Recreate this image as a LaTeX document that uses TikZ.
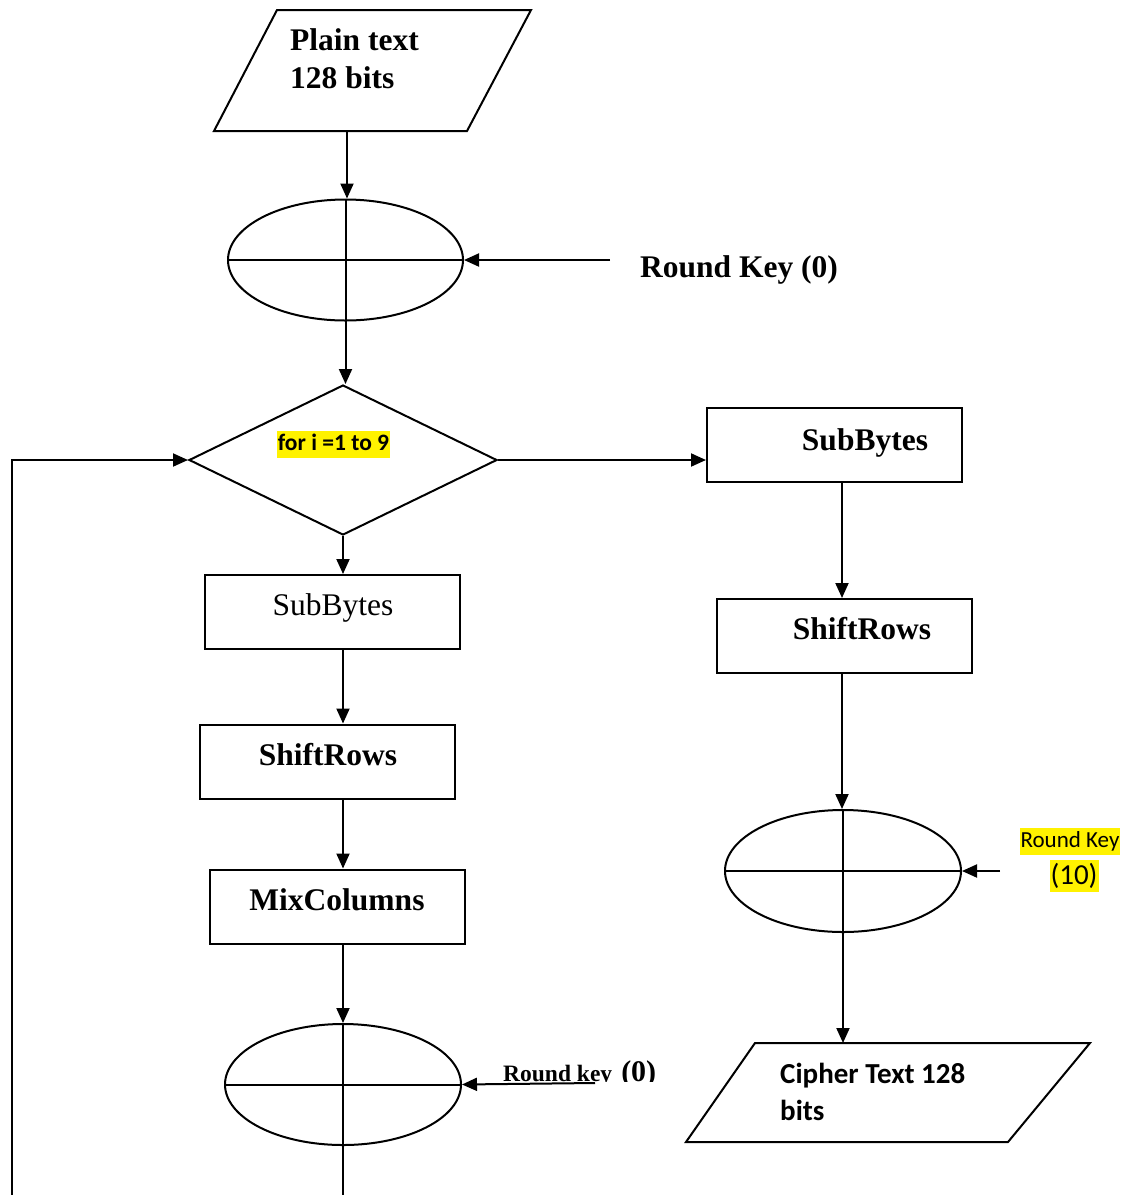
\documentclass[tikz,border=0pt]{standalone}
\usepackage{fontspec}
\setmainfont{Liberation Serif}
\newfontfamily\calibri{Carlito}
\usetikzlibrary{arrows.meta,shapes.geometric}

\tikzset{
  flow/.style={line width=2pt,-{Triangle[length=15pt,width=13pt]}},
  plain/.style={line width=2pt},
  xorop/.style={ellipse,draw,line width=2pt,inner sep=0pt},
  cross/.style={line width=2pt},
  procbox/.style={draw,line width=2pt,minimum width=255pt,minimum height=74pt,inner sep=0pt},
  bigtxt/.style={font=\fontsize{31.5}{38}\selectfont\bfseries,inner sep=0pt},
  regtxt/.style={font=\fontsize{31.5}{38}\selectfont,inner sep=0pt},
  hilite/.style={fill=yellow,inner xsep=1pt,inner ysep=0pt},
}

\begin{document}
\begin{tikzpicture}[x=1pt,y=-1pt]
\useasboundingbox (0,0) rectangle (1132,1195);

% ---- input block ----
\draw[line width=2pt] (277,10) -- (531,10) -- (467,131) -- (214,131) -- cycle;
\coordinate (ptB) at (347,131);
\node[bigtxt,anchor=north west,align=left] (pt) at (290,28) {Plain text\\128 bits};

% ---- initial key addition ----
\node[xorop,minimum width=235pt,minimum height=121pt] (e1) at (345.5,260) {};
\draw[cross] (e1.north) -- (e1.south) (e1.west) -- (e1.east);
\coordinate (k0) at (610,260);
\node[bigtxt,anchor=base west] (k0t) at (640,277) {Round Key (0)};
\draw[flow] (ptB) -- (ptB |- e1.north);
\draw[flow] (k0) -- (e1.east);

% ---- loop decision ----
\node[diamond,draw,line width=2pt,inner sep=0pt,minimum width=308pt,minimum height=150pt] (loop) at (343,460) {};
\node[hilite,font=\calibri\bfseries\fontsize{23.5}{28}\selectfont,text height=20pt,text depth=7pt] (looptxt) at (333.5,444) {for i =1 to 9};
\draw[flow] (e1.south) -- (e1.south |- loop.north);

% ---- round body (rounds 1..9) ----
\coordinate (colL) at (343,0);
\node[procbox] (sbL) at (332.5,612) {};
\node[regtxt,anchor=base] (sbLt) at (333,615) {SubBytes};
\node[procbox] (srL) at (327.5,761.5) {};
\node[bigtxt,anchor=base] (srLt) at (328,765) {ShiftRows};
\node[procbox] (mcL) at (337.5,906.5) {};
\node[bigtxt,anchor=base] (mcLt) at (337,910) {MixColumns};
\node[xorop,minimum width=236pt,minimum height=121pt] (e3) at (343,1084.5) {};
\draw[cross] (e3.north) -- (e3.south) (e3.west) -- (e3.east);

\draw[flow] (loop.south) -- (sbL.north -| colL);
\draw[flow] (sbL.south -| colL) -- (srL.north -| colL);
\draw[flow] (srL.south -| colL) -- (mcL.north -| colL);
\draw[flow] (mcL.south -| colL) -- (e3.north);

\coordinate (k1) at (595,1083);
\draw[flow] (k1) -- (e3.east);
\begin{scope}
  \clip (495,1040) rectangle (680,1081.5);
  \node[inner sep=0pt,anchor=base west,font=\bfseries] (k1t) at (503,1081)
    {\fontsize{23.5}{28}\selectfont Round key\hspace{9pt}\fontsize{30}{36}\selectfont(0)};
\end{scope}

% ---- loop back ----
\coordinate (bot) at (343,1195);
\coordinate (back) at (12,1195);
\draw[plain] (e3.south) -- (bot);
\draw[flow] (back) |- (loop.west);

% ---- final round ----
\coordinate (colR) at (842,0);
\node[procbox] (sbR) at (834.5,445) {};
\node[bigtxt,anchor=base] (sbRt) at (865,450) {SubBytes};
\node[procbox] (srR) at (844,636) {};
\node[bigtxt,anchor=base] (srRt) at (862,639) {ShiftRows};
\node[xorop,minimum width=236pt,minimum height=122pt] (e2) at (843,871) {};
\draw[cross] (e2.north) -- (e2.south) (e2.west) -- (e2.east);

\draw[flow] (loop.east) -- (loop.east -| sbR.west);
\draw[flow] (sbR.south -| colR) -- (srR.north -| colR);
\draw[flow] (srR.south -| colR) -- (e2.north -| colR);

\coordinate (k10) at (1000,871);
\draw[flow] (k10) -- (e2.east);
\node[hilite,font=\calibri\fontsize{23}{27}\selectfont,text height=19pt,text depth=8pt,anchor=base] (k10a) at (1070,847) {Round Key};
\node[hilite,font=\calibri\fontsize{29}{34}\selectfont,text height=24pt,text depth=8pt,anchor=base] (k10b) at (1074,884) {(10)};

% ---- output block ----
\draw[line width=2pt] (755,1043) -- (1090,1043) -- (1008,1142) -- (686,1142) -- cycle;
\coordinate (ctT) at (843,1043);
\draw[flow] (e2.south) -- (ctT);
\node[inner sep=0pt,anchor=base west,align=left,font=\calibri\bfseries\fontsize{29}{37}\selectfont] (ct) at (780,1120) {Cipher Text 128\\bits};
\end{tikzpicture}
\end{document}
